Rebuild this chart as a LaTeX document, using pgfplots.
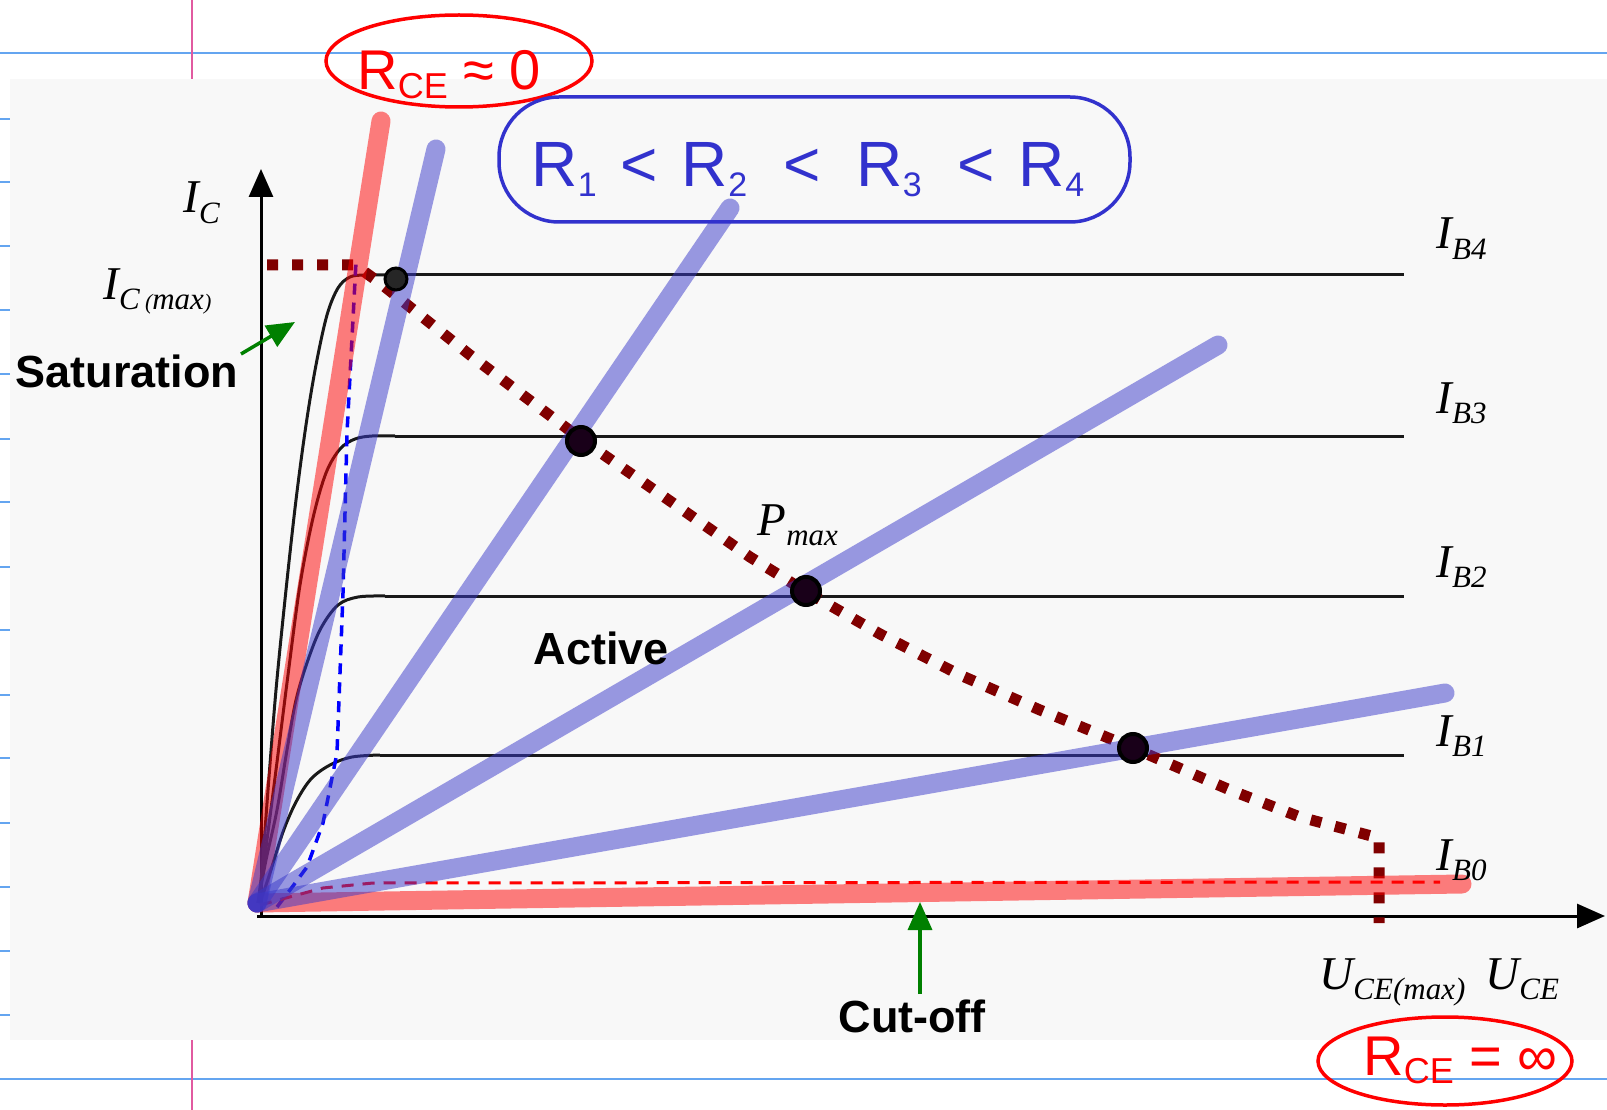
\documentclass[border=0pt]{standalone}
\usepackage{fontspec}
\setmainfont{Liberation Serif}
\setsansfont{Liberation Sans}
\usepackage{pgfplots}
\pgfplotsset{compat=1.18}
\usetikzlibrary{arrows.meta}

\definecolor{bgray}{RGB}{248,248,248}
\definecolor{bline}{RGB}{56,56,202}
\definecolor{dred}{RGB}{128,0,0}
\definecolor{nblue}{RGB}{100,165,240}
\definecolor{npink}{RGB}{225,90,160}
\definecolor{pen}{RGB}{50,50,205}
\definecolor{garrow}{RGB}{0,128,0}

\newcommand{\fs}[1]{\fontsize{#1}{#1}\selectfont}
% italic label with lowered subscript
\newcommand{\lab}[2]{{\fs{47}\itshape #1\raisebox{-0.22em}{\fs{31}#2}}}

\begin{document}
\begin{tikzpicture}
\begin{axis}[
    scale only axis,
    width=1607pt, height=1110pt,
    xmin=0, xmax=1607, ymin=0, ymax=1110,
    y dir=reverse,
    hide axis,
    clip=true,
    every node/.style={inner sep=0pt, outer sep=0pt},
  ]
% page and picture background
\addplot[fill=white, draw=none] coordinates {(0,0) (1607,0) (1607,1110) (0,1110)};
\addplot[fill=bgray, draw=none] coordinates {(10,79) (1607,79) (1607,1040) (10,1040)};

% notebook rules
\addplot[nblue, line width=1.5pt] coordinates {(0,53) (1607,53)};
\addplot[nblue, line width=1.5pt] coordinates {(0,1079) (1607,1079)};
\addplot[nblue, line width=1.5pt, unbounded coords=jump] coordinates {
  (0,119) (10,119) (5,nan) (0,182) (10,182) (5,nan) (0,246) (10,246) (5,nan)
  (0,310) (10,310) (5,nan) (0,374) (10,374) (5,nan) (0,439) (10,439) (5,nan)
  (0,502) (10,502) (5,nan) (0,567) (10,567) (5,nan) (0,630) (10,630) (5,nan)
  (0,695) (10,695) (5,nan) (0,758) (10,758) (5,nan) (0,823) (10,823) (5,nan)
  (0,887) (10,887) (5,nan) (0,951) (10,951) (5,nan) (0,1015) (10,1015)};
\addplot[npink, line width=1.5pt] coordinates {(192,0) (192,79)};
\addplot[npink, line width=1.5pt] coordinates {(192,1040) (192,1110)};

% axes
\addplot[black, line width=3pt, -{Triangle[length=28pt,width=24pt]}] coordinates {(261,918) (261,169)};
\addplot[black, line width=3pt, -{Triangle[length=28pt,width=24pt]}] coordinates {(257,916) (1605,916)};

% output characteristics I_B1 ... I_B4 (knee part, then flat part)
\addplot[black!90, line width=3pt, smooth, tension=0.55] coordinates {
  (258,903) (262,870) (268,790) (276,690) (286,590) (296,500) (306,425)
  (316,365) (327,315) (338,288) (350,277) (365,275) (390,275)};
\addplot[black!90, line width=3pt] coordinates {(390,275) (1404,275)};
\addplot[black!90, line width=3pt, smooth, tension=0.55] coordinates {
  (258,903) (265,855) (276,770) (288,675) (300,585) (313,518) (326,473)
  (340,449) (355,439) (372,436) (395,436)};
\addplot[black!90, line width=3pt] coordinates {(395,436) (1404,436)};
\addplot[black!90, line width=3pt, smooth, tension=0.55] coordinates {
  (258,903) (266,860) (277,810) (287,750) (296,700) (308,660) (321,628)
  (338,605) (358,597) (385,596)};
\addplot[black!90, line width=3pt] coordinates {(385,596) (1404,596)};
\addplot[black!90, line width=3pt, smooth, tension=0.55] coordinates {
  (260,903) (270,873) (283,832) (296,802) (311,779) (330,765) (352,757) (380,755)};
\addplot[black!90, line width=3pt] coordinates {(380,755) (1404,755)};

% maximum power hyperbola
\addplot[dred, line width=11pt, dash pattern=on 11pt off 14pt] coordinates {
  (267,265) (355,265) (380,283) (420,315) (470,355) (520,393) (581,439)
  (640,480) (700,522) (750,557) (805,591) (880,634) (960,675) (1040,710)
  (1133,748) (1230,790) (1300,817) (1379,838) (1379,923)};

% saturation boundary and I_B0
\addplot[blue, line width=3.5pt, dash pattern=on 11pt off 8pt] coordinates {
  (277,907) (290,890) (307,867) (323,823) (337,753) (343,593) (347,433) (356,262)};
\addplot[red, line width=3pt, dash pattern=on 12pt off 9pt] coordinates {
  (260,905) (323,888) (373,883) (1440,882)};

% load lines R_CE
\addplot[red, opacity=0.5, line width=19pt, line cap=round] coordinates {(257,903) (381,121)};
\addplot[red, opacity=0.5, line width=19pt, line cap=round] coordinates {(257,903) (1462,884)};
\addplot[bline, opacity=0.5, line width=19pt, line cap=round] coordinates {(257,903) (436,149)};
\addplot[bline, opacity=0.5, line width=19pt, line cap=round] coordinates {(257,903) (730,208)};
\addplot[bline, opacity=0.5, line width=19pt, line cap=round] coordinates {(257,903) (1218,345)};
\addplot[bline, opacity=0.5, line width=19pt, line cap=round] coordinates {(257,903) (1445,693)};

% hand-drawn operating points
\addplot[only marks, mark=*, mark size=11pt, mark options={fill=black!85, draw=black, line width=3pt}]
  coordinates {(396,279)};
\addplot[only marks, mark=*, mark size=14pt, mark options={fill=black!80!violet, draw=black, line width=4pt}]
  coordinates {(581,441) (806,591) (1133,748)};

% green arrows
\addplot[garrow, line width=3.5pt, -{Triangle[length=28pt,width=24pt]}] coordinates {(241,354) (295,322)};
\addplot[garrow, line width=3.5pt, -{Triangle[length=28pt,width=24pt]}] coordinates {(920,994) (920,902)};

% printed labels
\node[anchor=base west] at (axis cs:180,213) {\lab{I}{C}};
\node[anchor=base west] at (axis cs:100,299) {\lab{I}{C\,{\fs{22}(}max{\fs{22})}}};
\node[anchor=base west] at (axis cs:754,535) {\lab{P}{max}};
\node[anchor=base west] at (axis cs:1433,249) {\lab{I}{B4}};
\node[anchor=base west] at (axis cs:1433,413) {\lab{I}{B3}};
\node[anchor=base west] at (axis cs:1433,577) {\lab{I}{B2}};
\node[anchor=base west] at (axis cs:1433,746) {\lab{I}{B1}};
\node[anchor=base west] at (axis cs:1433,870) {\lab{I}{B0}};
\node[anchor=base west] at (axis cs:1316,989) {\lab{U}{CE(max)}};
\node[anchor=base west] at (axis cs:1482,989) {\lab{U}{CE}};
\node[anchor=base west, font=\sffamily\bfseries\fs{45}] at (axis cs:12,387) {Saturation};
\node[anchor=base west, font=\sffamily\bfseries\fs{45}] at (axis cs:530,664) {Active};
\node[anchor=base west, font=\sffamily\bfseries\fs{45}] at (axis cs:835,1032) {Cut-off};

% handwritten notes
\draw[red, line width=3.5pt] (axis cs:459,61) ellipse [x radius=133, y radius=46];
\node[anchor=base west, red, font=\sffamily\fs{56}] at (axis cs:354,90)
  {R\raisebox{-0.15em}{\fs{36}CE} ≈ 0};
\draw[pen, line width=3.5pt, rounded corners=60pt] (axis cs:499,97) rectangle (axis cs:1130,222);
\node[anchor=base west, pen, font=\sffamily\fs{64}] at (axis cs:528,187)
  {R\raisebox{-0.15em}{\fs{34}1}\hspace{24pt}<\hspace{24pt}R\raisebox{-0.15em}{\fs{34}2}\hspace{36pt}<\hspace{36pt}R\raisebox{-0.15em}{\fs{34}3}\hspace{36pt}<\hspace{24pt}R\raisebox{-0.15em}{\fs{34}4}};
\draw[red, line width=3.5pt] (axis cs:1445,1061) ellipse [x radius=127, y radius=44];
\node[anchor=base west, red, font=\sffamily\fs{56}] at (axis cs:1360,1075)
  {R\raisebox{-0.15em}{\fs{36}CE} = ∞};
\end{axis}
\end{tikzpicture}
\end{document}
